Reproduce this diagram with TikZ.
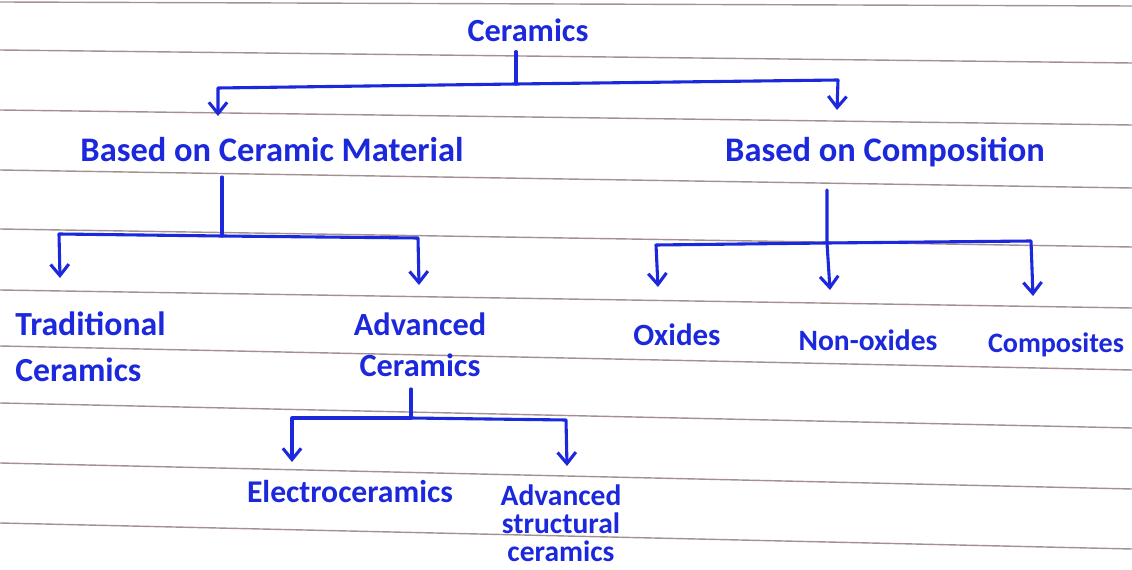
\documentclass[tikz,border=0pt]{standalone}
\usepackage{fontspec}
\setmainfont{Carlito}
\usetikzlibrary{arrows.meta}
\definecolor{pen}{RGB}{28,40,220}
\definecolor{rulecol}{RGB}{140,118,118}
\newcommand{\fs}[2]{\fontsize{#1}{#2}\selectfont\bfseries}
\begin{document}
\begin{tikzpicture}[x=0.025cm,y=-0.025cm,
  pen/.style={draw=pen, line width=2.2pt, line cap=round, line join=round},
  tip/.style={-{Straight Barb[length=8pt,width=13pt]}},
  lbl/.style={text=pen, inner sep=0pt, align=center},
  paper/.style={draw=rulecol, line width=1pt, opacity=0.8}]
\useasboundingbox (0,0) rectangle (1132,570);
\fill[white] (0,0) rectangle (1132,570);
% ruled paper
\foreach \a/\b in {2/6, 50/63, 110/125, 170/188, 229/247, 290/308, 346/370, 403/428, 463/489, 523/549}
  \draw[paper] (0,\a) -- (1132,\b);
% labels
\node[lbl, font=\fs{23}{28}] (cer) at (528,30) {Ceramics};
\node[lbl, font=\fs{24.5}{28}] (bcm) at (272,150) {Based on Ceramic Material};
\node[lbl, font=\fs{24.5}{28}] (boc) at (885,152) {Based on Composition};
\node[lbl, align=left, anchor=west, font=\fs{24}{33}] (trad) at (15,347) {Traditional\\Ceramics};
\node[lbl, font=\fs{23}{29}] (adv) at (420,345) {Advanced\\Ceramics};
\node[lbl, font=\fs{22}{28}] (ox) at (677,335) {Oxides};
\node[lbl, font=\fs{21}{28}] (nonox) at (868,340) {Non-oxides};
\node[lbl, font=\fs{20}{28}] (comp) at (1056,345) {Composites};
\node[lbl, font=\fs{22.5}{28}] (elec) at (350,492) {Electroceramics};
\node[lbl, font=\fs{21}{20}] (ast) at (561,523) {Advanced\\structural\\ceramics};
% junction coordinates
\coordinate (s0) at (cer.south -| 516,0);
\coordinate (j0) at (516,84);
\coordinate (b0l) at (218,88);
\coordinate (b0r) at (838,80);
\coordinate (a0l) at (218,116);
\coordinate (a0r) at (837,110);
\coordinate (s1) at (222,177);
\coordinate (j1) at (222,236);
\coordinate (b1l) at (59,234);
\coordinate (b1r) at (418,238);
\coordinate (a1l) at (60,278);
\coordinate (a1r) at (419,285);
\coordinate (s2) at (827,190);
\coordinate (j2) at (827,243);
\coordinate (b2l) at (656,245);
\coordinate (b2r) at (1031,241);
\coordinate (a2l) at (658,287);
\coordinate (a2m) at (830,290);
\coordinate (a2r) at (1033,296);
\coordinate (s3) at (411,389);
\coordinate (j3) at (411,418);
\coordinate (b3l) at (292,418);
\coordinate (b3r) at (566,420);
\coordinate (a3l) at (292,462);
\coordinate (a3r) at (567,466);
% connectors: Ceramics
\draw[pen] ([yshift=-7pt]s0) -- (j0);
\draw[pen,tip] (j0) -- (b0l) -- (a0l);
\draw[pen,tip] (j0) -- (b0r) -- (a0r);
% Based on Ceramic Material
\draw[pen] (s1) -- (j1);
\draw[pen,tip] (j1) -- (b1l) -- (a1l);
\draw[pen,tip] (j1) -- (b1r) -- (a1r);
% Based on Composition
\draw[pen,tip] (s2) -- (j2) -- (a2m);
\draw[pen,tip] (j2) -- (b2l) -- (a2l);
\draw[pen,tip] (j2) -- (b2r) -- (a2r);
% Advanced Ceramics
\draw[pen] (s3) -- (j3);
\draw[pen,tip] (j3) -- (b3l) -- (a3l);
\draw[pen,tip] (j3) -- (b3r) -- (a3r);
\end{tikzpicture}
\end{document}
